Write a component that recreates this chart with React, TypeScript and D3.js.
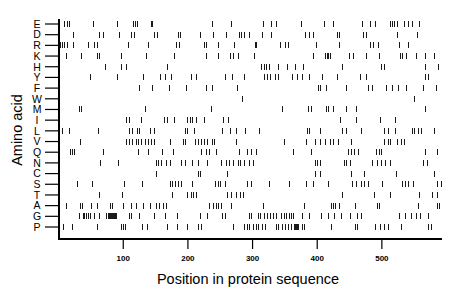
import React from 'react';
import * as d3 from 'd3';

// amino acid rows, top to bottom
const residues = ['E', 'D', 'R', 'K', 'H', 'Y', 'F', 'W', 'M', 'I', 'L', 'V', 'Q', 'N', 'C', 'S', 'T', 'A', 'G', 'P'];
const xTicks = [100, 200, 300, 400, 500];
const seqLength = 593;

// positions of each residue in the sequence
const posE = [9, 13, 16, 53, 90, 115, 118, 122, 143, 145, 237, 266, 316, 329, 336, 375, 411, 425, 469, 481, 489, 512, 515, 518, 523, 534, 541, 546, 557];
const posD = [23, 63, 68, 93, 112, 116, 147, 152, 185, 188, 219, 239, 259, 279, 282, 286, 295, 314, 329, 381, 387, 394, 430, 434, 471, 476, 523, 555];
const posR = [2, 5, 9, 13, 22, 45, 55, 59, 107, 138, 182, 186, 225, 228, 247, 272, 304, 306, 342, 350, 355, 398, 434, 481, 486, 494, 527, 541];
const posK = [12, 35, 60, 63, 97, 135, 179, 228, 247, 265, 270, 277, 302, 393, 412, 415, 417, 420, 449, 455, 475, 495, 528, 531, 537, 553, 567, 580];
const posH = [71, 96, 105, 167, 313, 317, 321, 326, 340, 353, 366, 378, 439, 499, 504, 566, 587];
const posY = [48, 91, 130, 157, 165, 174, 205, 212, 257, 268, 286, 317, 322, 327, 334, 340, 361, 368, 376, 388, 407, 430, 466, 475, 566, 571];
const posF = [125, 144, 170, 197, 228, 237, 276, 401, 404, 413, 444, 478, 485, 506, 516, 525, 537, 563, 583];
const posW = [284, 550];
const posM = [31, 34, 134, 236, 346, 385, 390, 413, 417, 424, 444, 460, 567];
const posI = [105, 109, 127, 163, 167, 179, 199, 203, 206, 213, 225, 255, 262, 436, 460, 497, 521];
const posL = [5, 16, 61, 109, 113, 121, 124, 141, 147, 196, 199, 210, 252, 265, 275, 289, 310, 384, 388, 404, 438, 444, 467, 503, 509, 521, 546, 550, 556, 560, 580];
const posV = [33, 104, 109, 113, 119, 123, 128, 134, 139, 143, 148, 172, 192, 196, 211, 216, 221, 225, 230, 237, 240, 275, 349, 383, 396, 404, 412, 419, 425, 432, 453, 504, 509, 513, 523, 529, 534];
const posQ = [18, 21, 24, 69, 123, 139, 160, 177, 221, 228, 233, 243, 279, 292, 298, 305, 362, 391, 448, 452, 457, 463, 491, 495, 499, 567, 586];
const posN = [64, 92, 151, 154, 158, 166, 173, 189, 196, 206, 216, 230, 251, 259, 264, 269, 277, 280, 287, 294, 301, 396, 400, 404, 441, 444, 451, 485, 493, 498, 505, 513, 564, 570];
const posC = [151, 216, 219, 261, 397, 404, 453, 472, 522, 581];
const posS = [1, 29, 52, 101, 129, 172, 176, 180, 184, 189, 206, 242, 246, 250, 257, 292, 298, 326, 357, 382, 393, 417, 454, 460, 467, 473, 478, 500, 531, 535, 540, 548, 585, 591];
const posT = [63, 98, 175, 198, 205, 208, 213, 261, 267, 274, 280, 285, 438, 488, 513, 557, 578, 586];
const posA = [11, 33, 36, 50, 60, 80, 83, 100, 112, 120, 131, 141, 151, 156, 161, 166, 233, 239, 243, 247, 251, 266, 316, 379, 422, 425, 428, 433, 458, 492, 496, 556, 585, 589];
const posG = [31, 37, 38, 40, 42, 43, 45, 49, 54, 63, 73, 74, 76, 78, 79, 81, 83, 84, 86, 88, 89, 109, 112, 125, 148, 165, 183, 219, 230, 252, 257, 294, 298, 308, 312, 317, 323, 327, 332, 337, 344, 349, 352, 356, 360, 363, 376, 388, 406, 417, 426, 437, 450, 462, 468, 526, 536, 545, 553, 559, 572];
const posP = [7, 20, 59, 97, 100, 103, 129, 136, 168, 183, 199, 215, 220, 269, 286, 291, 295, 300, 305, 309, 315, 320, 336, 340, 345, 350, 355, 359, 364, 365, 367, 368, 370, 371, 376, 380, 421, 458, 462, 489, 497, 504, 509, 530, 572, 576];

const positions: Record<string, number[]> = {
  E: posE, D: posD, R: posR, K: posK, H: posH, Y: posY, F: posF, W: posW, M: posM, I: posI,
  L: posL, V: posV, Q: posQ, N: posN, C: posC, S: posS, T: posT, A: posA, G: posG, P: posP,
};

const font = 'Liberation Sans, Arial, sans-serif';

export default function App() {
  const width = 460;
  const height = 299;
  const left = 59;
  const right = 442;
  const top = 19;
  const bottom = 239;

  const x = d3.scaleLinear().domain([0, seqLength]).range([left - 0.4, right]);
  const y = d3.scalePoint<string>().domain(residues).range([24, 227]);

  const markH = 6;

  return (
    <svg
      width={width}
      height={height}
      style={{ position: 'absolute', left: 0, top: 0, background: '#fff' }}
      fontFamily={font}
    >
      {/* marks */}
      <g shapeRendering="crispEdges">
        {residues.map((r) =>
          positions[r].map((p, i) => (
            <rect
              key={r + i}
              x={Math.round(x(p))}
              y={Math.round((y(r) as number) - markH / 2)}
              width={1}
              height={markH}
              fill="#1a1a1a"
            />
          ))
        )}
      </g>

      {/* y axis */}
      <line x1={left} x2={left} y1={top} y2={bottom + 1} stroke="#000" strokeWidth={2} />
      {residues.map((r) => (
        <g key={'t' + r}>
          <line x1={45} x2={left} y1={y(r)} y2={y(r)} stroke="#000" strokeWidth={1.2} />
          <text x={37} y={(y(r) as number) + 3.8} textAnchor="middle" fontSize={10.5} fill="#000">
            {r}
          </text>
        </g>
      ))}

      {/* x axis */}
      <line x1={left - 1} x2={right} y1={bottom} y2={bottom} stroke="#000" strokeWidth={2} />
      {xTicks.map((t) => (
        <g key={'x' + t}>
          <line x1={x(t)} x2={x(t)} y1={bottom} y2={bottom + 10} stroke="#000" strokeWidth={1.2} />
          <text x={x(t)} y={bottom + 22} textAnchor="middle" fontSize={8} fontWeight="bold" fill="#000">
            {t}
          </text>
        </g>
      ))}

      <text x={248} y={284} textAnchor="middle" fontSize={14.5} fill="#000">
        Position in protein sequence
      </text>
      <text
        transform={`translate(22, 130) rotate(-90)`}
        textAnchor="middle"
        fontSize={14.5}
        fill="#000"
      >
        Amino acid
      </text>
    </svg>
  );
}
